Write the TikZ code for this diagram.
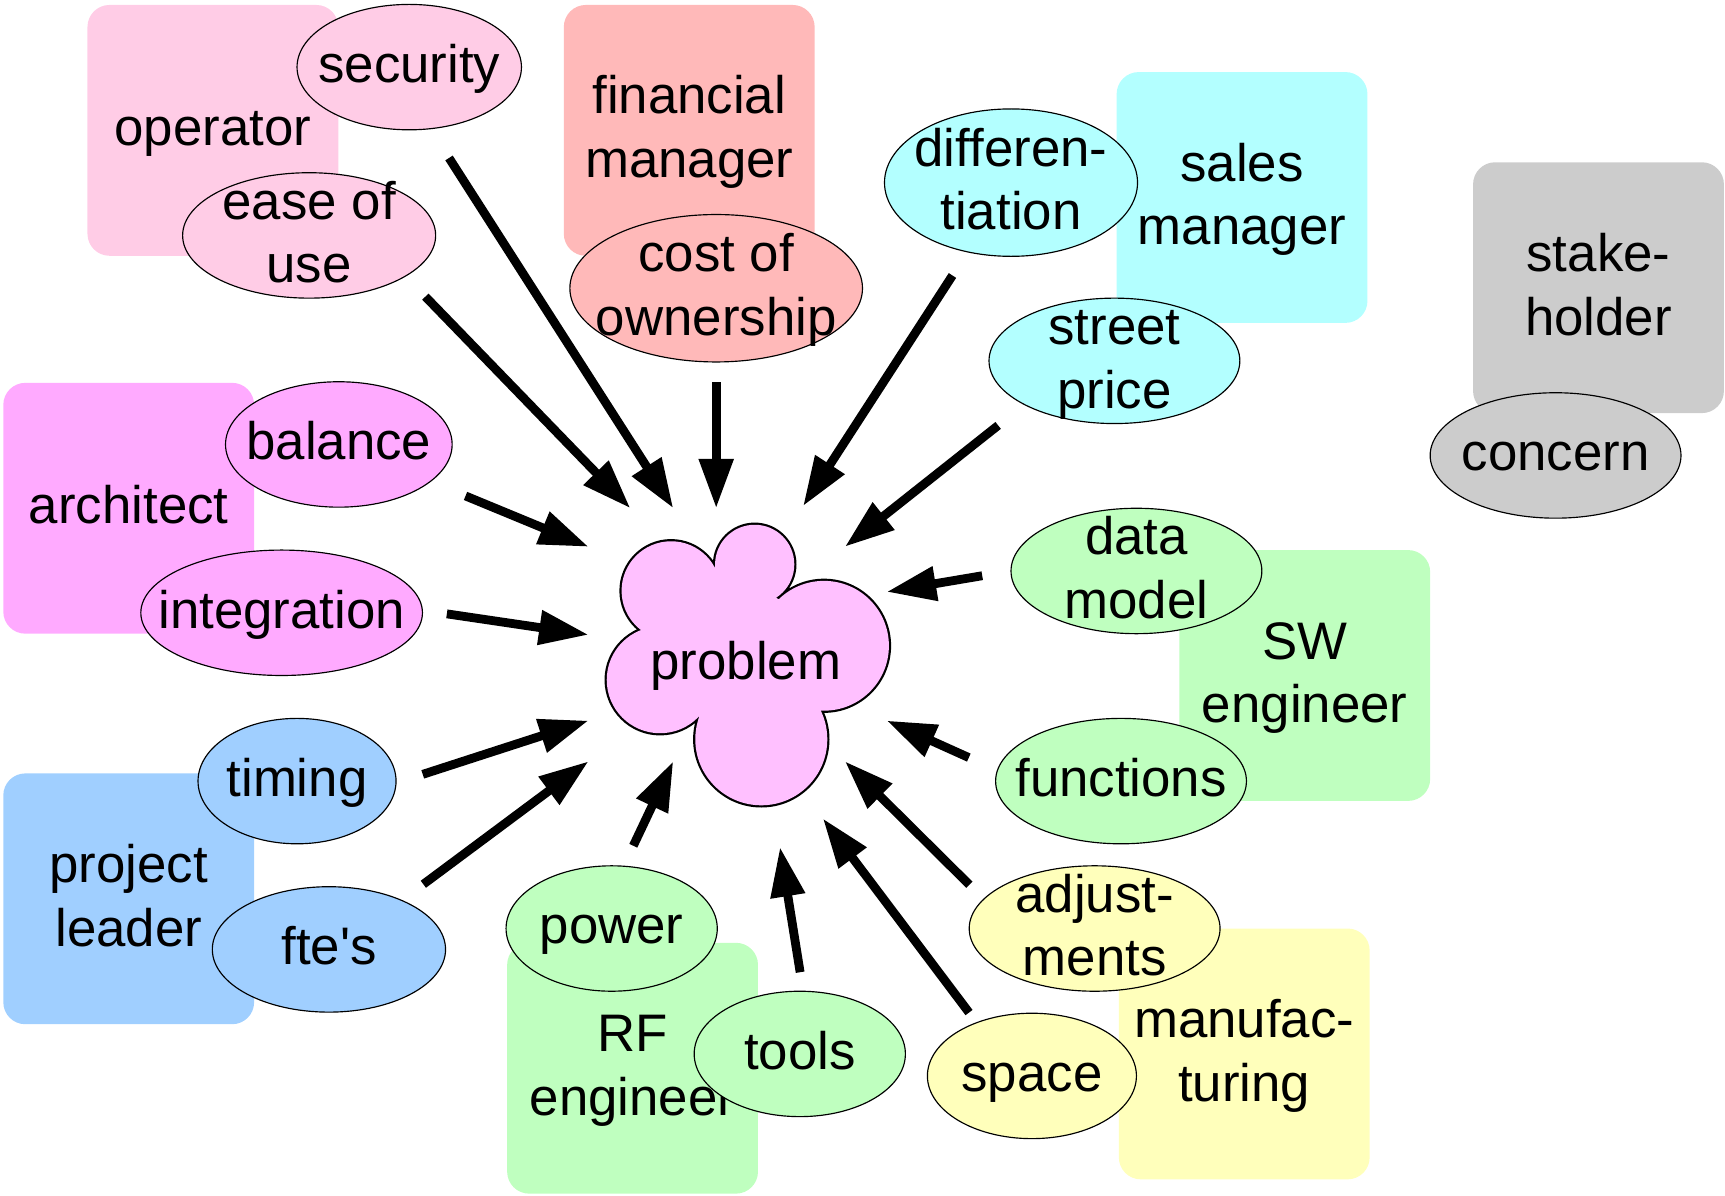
\documentclass[tikz,border=0pt]{standalone}
\usepackage{fontspec}
\setmainfont{Liberation Sans}
\usetikzlibrary{arrows.meta,shapes.geometric}
\definecolor{operatorpink}{RGB}{255,204,230}
\definecolor{financered}{RGB}{255,185,185}
\definecolor{salescyan}{RGB}{179,255,255}
\definecolor{holdergray}{RGB}{204,204,204}
\definecolor{architectpink}{RGB}{255,170,255}
\definecolor{problempink}{RGB}{255,192,255}
\definecolor{engineergreen}{RGB}{191,255,191}
\definecolor{leaderblue}{RGB}{160,207,255}
\definecolor{manufyellow}{RGB}{255,255,187}

\begin{document}
\begin{tikzpicture}[x=0.1mm,y=-0.1mm,
  every node/.style={font=\fontsize{13.66pt}{16.5pt}\selectfont,text height=12pt,text depth=4pt},
  every label/.style={align=center},
  twoline/.style={text height=28.5pt},
  rolebox/.style={rounded corners=2mm,minimum width=22.8mm,minimum height=22.8mm,inner sep=0pt,align=center},
  concernell/.style={ellipse,draw=black,line width=0.3pt,inner sep=0pt,minimum height=11.4mm},
  pointer/.style={line width=0.8mm,-{Triangle[length=4.5mm,width=3mm]}}]
\useasboundingbox (0,0) rectangle (1568,1087);
\node[rolebox,fill=operatorpink] (operator) at (193.5,118.5) {operator};
\node[rolebox,twoline,fill=financered] (financial) at (626.5,118.5) {financial\\manager};
\node[rolebox,twoline,fill=salescyan] (sales) at (1129,179.5) {sales\\manager};
\node[rolebox,twoline,fill=holdergray] (stakeholder) at (1453,261.5) {stake-\\holder};
\node[rolebox,fill=architectpink] (architect) at (117,462) {architect};
\node[rolebox,twoline,fill=engineergreen] (swengineer) at (1186,614) {SW\\engineer};
\node[rolebox,twoline,fill=leaderblue] (leader) at (117,817) {project\\leader};
\node[rolebox,twoline,fill=engineergreen] (rfengineer) at (575,971) {RF\\engineer};
\node[rolebox,twoline,fill=manufyellow] (manufacturing) at (1131,958) {manufac-\\turing};
\node[concernell,fill=operatorpink,minimum width=20.4mm,label=center:security] (security) at (372,61) {};
\node[concernell,fill=operatorpink,minimum width=23mm,label={[twoline]center:ease of\\use}] (ease) at (281,214) {};
\node[concernell,fill=financered,minimum width=26.6mm,minimum height=13.4mm,label={[twoline]center:cost of\\ownership}] (cost) at (651,262) {};
\node[concernell,fill=salescyan,minimum width=23mm,minimum height=13.4mm,label={[twoline]center:differen-\\tiation}] (diff) at (919,166) {};
\node[concernell,fill=salescyan,minimum width=22.8mm,label={[twoline]center:street\\price}] (street) at (1013,328) {};
\node[concernell,fill=holdergray,minimum width=22.8mm,label=center:concern] (concern) at (1414,414) {};
\node[concernell,fill=architectpink,minimum width=20.6mm,label=center:balance] (balance) at (308,404) {};
\node[concernell,fill=architectpink,minimum width=25.6mm,label=center:integration] (integration) at (256,557) {};
\node[concernell,fill=engineergreen,minimum width=22.8mm,label={[twoline]center:data\\model}] (datamodel) at (1033,519) {};
\node[concernell,fill=engineergreen,minimum width=22.8mm,label=center:functions] (functions) at (1019,710) {};
\node[concernell,fill=manufyellow,minimum width=22.8mm,label={[twoline]center:adjust-\\ments}] (adjust) at (995,844) {};
\node[concernell,fill=manufyellow,minimum width=19mm,label=center:space] (space) at (938,978) {};
\node[concernell,fill=leaderblue,minimum width=18mm,label=center:timing] (timing) at (270,710) {};
\node[concernell,fill=leaderblue,minimum width=21.2mm,label={center:fte\textquotesingle s}] (fte) at (299,863) {};
\node[concernell,fill=engineergreen,minimum width=19.2mm,label=center:power] (power) at (556,844) {};
\node[concernell,fill=engineergreen,minimum width=19.2mm,label=center:tools] (tools) at (727,958) {};
\draw[line width=0.4mm,fill=problempink] (686,513) circle[radius=36] (749,587) circle[radius=59] (692,672) circle[radius=60] (600,618) circle[radius=48.5] (610,537) circle[radius=45];
\fill[problempink] (686,513) circle[radius=36] (749,587) circle[radius=59] (692,672) circle[radius=60] (600,618) circle[radius=48.5] (610,537) circle[radius=45] (680,600) circle[radius=62] (655,560) circle[radius=38];
\node (problem) at (678,604) {problem};
\coordinate (in-security) at (612,462);
\coordinate (in-ease) at (573,462);
\coordinate (in-cost) at (651,462);
\coordinate (in-diff) at (730,460);
\coordinate (in-street) at (768,497);
\coordinate (in-datamodel) at (806,538);
\coordinate (in-functions) at (806,655);
\coordinate (in-adjust) at (768,692);
\coordinate (in-space) at (748,744);
\coordinate (in-tools) at (709,770);
\coordinate (in-power) at (612,692);
\coordinate (in-fte) at (535,692);
\coordinate (in-timing) at (535,655);
\coordinate (in-integration) at (535,577);
\coordinate (in-balance) at (535,497);
\draw[pointer,shorten <=3.1mm] (security.-71) -- (in-security);
\draw[pointer,shorten <=2.55mm] (ease.-23.7) -- (in-ease);
\draw[pointer,shorten <=1.8mm] (cost.-90) -- (in-cost);
\draw[pointer,shorten <=2.5mm] (diff.-122) -- (in-diff);
\draw[pointer,shorten <=3mm] (street.-154.6) -- (in-street);
\draw[pointer,shorten <=2.6mm] (datamodel.180) -- (in-datamodel);
\draw[pointer,shorten <=2.8mm] (functions.175.8) -- (in-functions);
\draw[pointer,shorten <=1.8mm] (adjust.165.4) -- (in-adjust);
\draw[pointer,shorten <=1.1mm] (space.136.8) -- (in-space);
\draw[pointer,shorten <=1.7mm] (tools.87.3) -- (in-tools);
\draw[pointer,shorten <=2mm] (power.79.8) -- (in-power);
\draw[pointer,shorten <=2.4mm] (fte.34.2) -- (in-fte);
\draw[pointer,shorten <=2.5mm] (timing.-1.9) -- (in-timing);
\draw[pointer,shorten <=2.2mm] (integration.1) -- (in-integration);
\draw[pointer,shorten <=3.4mm] (balance.-22.5) -- (in-balance);
\end{tikzpicture}
\end{document}
